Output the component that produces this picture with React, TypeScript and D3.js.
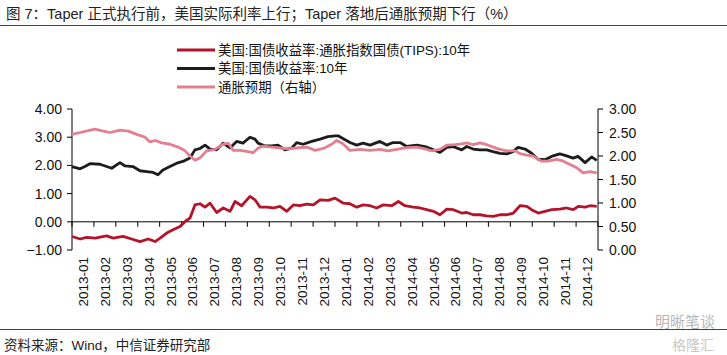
import React from "react";
import * as d3 from "d3";

const titleText = "图 7：Taper 正式执行前，美国实际利率上行；Taper 落地后通胀预期下行（%）";
const sourceText = "资料来源：Wind，中信证券研究部";
const seriesNames = ["美国:国债收益率:通胀指数国债(TIPS):10年", "美国:国债收益率:10年", "通胀预期（右轴）"];
const seriesColors = ["#b3142a", "#1c1c1c", "#e27f90"];

const monthLabels = [
  "2013-01", "2013-02", "2013-03", "2013-04", "2013-05", "2013-06", "2013-07", "2013-08",
  "2013-09", "2013-10", "2013-11", "2013-12", "2014-01", "2014-02", "2014-03", "2014-04",
  "2014-05", "2014-06", "2014-07", "2014-08", "2014-09", "2014-10", "2014-11", "2014-12",
];
const leftTicks = [-1, 0, 1, 2, 3, 4];
const rightTicks = [0, 0.5, 1, 1.5, 2, 2.5, 3];

// [month position since 2013-01-01, value]
const tips: [number, number][] = [
  [0, -0.52], [0.37, -0.61], [0.67, -0.55], [1.05, -0.58], [1.58, -0.5], [1.88, -0.58],
  [2.33, -0.52], [2.72, -0.61], [3.1, -0.7], [3.48, -0.61], [3.79, -0.7], [4.02, -0.58],
  [4.32, -0.4], [4.61, -0.28], [4.93, -0.17], [5.16, 0.01], [5.38, 0.13], [5.61, 0.6],
  [5.84, 0.64], [6.07, 0.52], [6.3, 0.66], [6.6, 0.33], [6.9, 0.49], [7.21, 0.37],
  [7.44, 0.72], [7.74, 0.57], [8.12, 0.9], [8.35, 0.78], [8.58, 0.52], [8.88, 0.52],
  [9.19, 0.49], [9.49, 0.55], [9.8, 0.37], [10.1, 0.6], [10.4, 0.57], [10.71, 0.63],
  [11.01, 0.6], [11.32, 0.78], [11.69, 0.76], [12.0, 0.84], [12.38, 0.66], [12.68, 0.64],
  [12.99, 0.52], [13.29, 0.6], [13.6, 0.57], [13.9, 0.49], [14.2, 0.6], [14.59, 0.57],
  [14.89, 0.72], [15.19, 0.57], [15.57, 0.52], [15.88, 0.49], [16.18, 0.43], [16.49, 0.37],
  [16.79, 0.25], [17.1, 0.45], [17.4, 0.43], [17.78, 0.31], [18.01, 0.33], [18.31, 0.25],
  [18.62, 0.25], [18.92, 0.21], [19.22, 0.19], [19.53, 0.25], [19.84, 0.25], [20.14, 0.31],
  [20.44, 0.57], [20.75, 0.55], [20.97, 0.43], [21.27, 0.31], [21.58, 0.37], [21.89, 0.43],
  [22.26, 0.45], [22.57, 0.49], [22.87, 0.43], [23.1, 0.55], [23.41, 0.52], [23.64, 0.57],
  [23.94, 0.55],
];

const tenYear: [number, number][] = [
  [0, 1.96], [0.37, 1.88], [0.59, 1.96], [0.82, 2.06], [1.28, 2.04], [1.58, 1.96],
  [1.81, 1.9], [2.19, 2.1], [2.42, 1.98], [2.78, 1.96], [3.1, 1.81], [3.41, 1.78],
  [3.7, 1.75], [3.92, 1.67], [4.15, 1.84], [4.47, 1.96], [4.78, 2.08], [5.06, 2.14],
  [5.38, 2.26], [5.61, 2.55], [5.84, 2.6], [6.07, 2.72], [6.3, 2.58], [6.6, 2.55],
  [6.89, 2.79], [7.21, 2.62], [7.51, 2.85], [7.8, 2.79], [8.12, 3.0], [8.35, 2.93],
  [8.49, 2.79], [8.81, 2.69], [9.11, 2.69], [9.4, 2.72], [9.72, 2.55], [10.02, 2.61],
  [10.25, 2.81], [10.54, 2.75], [10.94, 2.85], [11.32, 2.93], [11.68, 3.02], [12.0, 3.05],
  [12.14, 3.05], [12.46, 2.91], [12.68, 2.81], [12.99, 2.72], [13.28, 2.79], [13.6, 2.72],
  [14.05, 2.85], [14.36, 2.72], [14.65, 2.81], [14.97, 2.81], [15.27, 2.67], [15.73, 2.72],
  [16.11, 2.67], [16.41, 2.58], [16.79, 2.46], [17.1, 2.64], [17.38, 2.67], [17.78, 2.55],
  [18.01, 2.67], [18.3, 2.58], [18.62, 2.55], [18.92, 2.55], [19.21, 2.49], [19.53, 2.43],
  [19.84, 2.41], [20.12, 2.49], [20.35, 2.64], [20.67, 2.58], [20.97, 2.43], [21.26, 2.22],
  [21.58, 2.2], [21.95, 2.34], [22.26, 2.41], [22.57, 2.34], [22.86, 2.26], [23.09, 2.32],
  [23.41, 2.1], [23.71, 2.3], [23.94, 2.18],
];

const breakeven: [number, number][] = [
  [0, 2.46], [0.37, 2.5], [1.05, 2.57], [1.43, 2.53], [1.73, 2.5], [2.19, 2.55],
  [2.57, 2.53], [2.95, 2.46], [3.33, 2.4], [3.56, 2.3], [3.79, 2.33], [4.09, 2.28],
  [4.47, 2.25], [4.84, 2.19], [5.16, 2.11], [5.38, 2.0], [5.61, 1.91], [5.84, 1.96],
  [6.15, 2.11], [6.52, 2.14], [6.89, 2.25], [7.13, 2.27], [7.36, 2.12], [7.67, 2.12],
  [7.97, 2.1], [8.26, 2.07], [8.5, 2.17], [8.71, 2.21], [9.11, 2.19], [9.49, 2.17],
  [9.86, 2.15], [10.25, 2.17], [10.71, 2.19], [11.09, 2.12], [11.47, 2.16], [11.85, 2.25],
  [12.08, 2.33], [12.36, 2.26], [12.68, 2.12], [13.14, 2.14], [13.6, 2.12], [14.05, 2.14],
  [14.42, 2.11], [14.81, 2.14], [15.27, 2.18], [15.73, 2.19], [16.11, 2.15], [16.41, 2.11],
  [16.79, 2.14], [17.1, 2.23], [17.47, 2.24], [17.78, 2.26], [18.01, 2.28], [18.3, 2.24],
  [18.62, 2.28], [18.92, 2.24], [19.22, 2.19], [19.53, 2.14], [19.84, 2.11], [20.21, 2.11],
  [20.44, 2.05], [20.75, 2.02], [21.03, 2.0], [21.43, 1.89], [21.73, 1.89], [22.11, 1.93],
  [22.42, 1.89], [22.72, 1.82], [23.03, 1.75], [23.32, 1.64], [23.64, 1.67], [23.94, 1.64],
];

const W = 727;
const H = 355;
const FONT = "'Liberation Sans', Arial, 'Noto Sans CJK SC', sans-serif";

export default function App() {
  const x = d3.scaleLinear().domain([0, 24]).range([72, 598]);
  const yL = d3.scaleLinear().domain([-1, 4]).range([250, 109]);
  const yR = d3.scaleLinear().domain([0, 3]).range([250, 109]);

  const lineL = d3.line<[number, number]>().x((d) => x(d[0])).y((d) => yL(d[1]));
  const lineR = d3.line<[number, number]>().x((d) => x(d[0])).y((d) => yR(d[1]));

  const monthTicks = d3.range(0, 25);
  const legendRows = [50, 68.5, 87];

  return (
    <svg
      width={W}
      height={H}
      style={{ position: "absolute", left: 0, top: 0, background: "#fff" }}
      fontFamily={FONT}
    >
      <rect x={0} y={0} width={W} height={H} fill="#fff" />
      {/* title */}
      <text x={6} y={19} fontSize={14.5} fill="#222">{titleText}</text>
      <line x1={0} x2={W} y1={25.5} y2={25.5} stroke="#7d2b2b" strokeWidth={1.2} />

      {/* legend */}
      {seriesNames.map((n, i) => (
        <g key={n}>
          <line x1={177} x2={215} y1={legendRows[i]} y2={legendRows[i]} stroke={seriesColors[i]} strokeWidth={3} />
          <text x={218} y={legendRows[i]} dy="0.36em" fontSize={13.4} fill="#111">{n}</text>
        </g>
      ))}

      {/* left axis */}
      <line x1={72} x2={72} y1={yL(4)} y2={yL(-1)} stroke="#000" strokeWidth={1} />
      {leftTicks.map((t) => (
        <g key={"l" + t}>
          <line x1={67} x2={72} y1={yL(t)} y2={yL(t)} stroke="#000" />
          <text x={62} y={yL(t)} dy="0.36em" textAnchor="end" fontSize={14} fill="#111">
            {d3.format(".2f")(t)}
          </text>
        </g>
      ))}

      {/* right axis */}
      <line x1={598} x2={598} y1={yR(3)} y2={yR(0)} stroke="#000" strokeWidth={1} />
      {rightTicks.map((t) => (
        <g key={"r" + t}>
          <line x1={598} x2={603} y1={yR(t)} y2={yR(t)} stroke="#000" />
          <text x={609} y={yR(t)} dy="0.36em" textAnchor="start" fontSize={14} fill="#111">
            {d3.format(".2f")(t)}
          </text>
        </g>
      ))}

      {/* x axis at 0 */}
      <line x1={72} x2={598} y1={yL(0)} y2={yL(0)} stroke="#000" strokeWidth={1} />
      {monthTicks.map((m) => (
        <line key={"t" + m} x1={x(m)} x2={x(m)} y1={yL(0)} y2={yL(0) + 5} stroke="#000" />
      ))}
      {monthLabels.map((lab, i) => (
        <text
          key={lab}
          transform={`translate(${x(i + 0.5)},257) rotate(-90)`}
          textAnchor="end"
          dy="0.36em"
          fontSize={13.5}
          fill="#111"
        >
          {lab}
        </text>
      ))}

      {/* series */}
      <path d={lineL(tips) || ""} fill="none" stroke={seriesColors[0]} strokeWidth={2.8} strokeLinejoin="round" />
      <path d={lineL(tenYear) || ""} fill="none" stroke={seriesColors[1]} strokeWidth={2.8} strokeLinejoin="round" />
      <path d={lineR(breakeven) || ""} fill="none" stroke={seriesColors[2]} strokeWidth={2.8} strokeLinejoin="round" />

      {/* footer */}
      <line x1={0} x2={W} y1={329.5} y2={329.5} stroke="#7d2b2b" strokeWidth={1.2} />
      <text x={4} y={350} fontSize={13.5} fill="#222">{sourceText}</text>
      <text x={655} y={327} fontSize={15} fill="#b8b8b8">明晰笔谈</text>
      <text x={672} y={350} fontSize={14} fill="#c8c8c8">格隆汇</text>
    </svg>
  );
}
